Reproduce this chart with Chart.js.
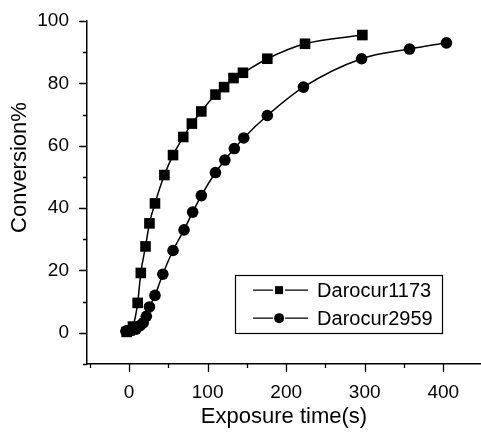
<!DOCTYPE html>
<html>
<head>
<meta charset="utf-8">
<script src="https://cdn.jsdelivr.net/npm/chart.js@4/dist/chart.umd.min.js"></script>
<style>
html,body{margin:0;padding:0;background:#fff;}
#wrap{position:relative;width:481px;height:433px;}
</style>
</head>
<body>
<div id="wrap"><canvas id="c" width="481" height="433"></canvas></div>
<script>
// Darocur1173 (squares)
const timeA = [-3, 1, 5, 11, 15, 21, 26, 33, 45, 56, 69, 80, 92, 110, 121, 133, 145, 176, 224, 297];
const convA = [0.3, 0.8, 2, 9.6, 19.2, 27.7, 35.1, 41.5, 50.6, 57, 62.8, 67.1, 71, 76.4, 78.8, 81.7, 83.4, 87.9, 92.7, 95.5];
// Darocur2959 (circles)
const timeB = [-4, 2, 9, 14, 18, 22, 26, 33, 43, 56, 70, 81, 92, 110, 122, 134, 146, 176, 222, 296, 357, 404];
const convB = [0.5, 0.7, 1.2, 2.3, 3.2, 5.3, 8.3, 12, 18.8, 26.4, 33, 38.7, 44, 51.4, 55.4, 59.1, 62.5, 69.7, 78.8, 87.9, 91, 93];
const seriesNames = ['Darocur1173', 'Darocur2959'];
const xTickLabels = [0, 100, 200, 300, 400];
const yTickLabels = [0, 20, 40, 60, 80, 100];
const xTitle = 'Exposure time(s)';
const yTitle = 'Conversion%';

const toPts = (xs, ys) => xs.map((x, i) => ({x: x, y: ys[i]}));
const FONT = 'Liberation Sans, Arial, sans-serif';

const tickPlugin = {
  id: 'ticksAndLegend',
  afterDraw(chart) {
    const ctx = chart.ctx;
    const xs = chart.scales.x, ys = chart.scales.y;
    const ca = chart.chartArea;
    ctx.save();
    ctx.strokeStyle = '#000';
    ctx.lineWidth = 1.3;
    ctx.beginPath();
    for (let v = -50; v <= 450; v += 50) {
      if (v < xs.min || v > xs.max) continue;
      const p = Math.round(xs.getPixelForValue(v)) + 0.5;
      const len = (v % 100 === 0) ? 8 : 4;
      ctx.moveTo(p, ca.bottom);
      ctx.lineTo(p, ca.bottom + len);
    }
    for (let v = -10; v <= 100; v += 10) {
      const p = Math.round(ys.getPixelForValue(v)) + 0.5;
      const len = (v % 20 === 0) ? 8 : 4;
      ctx.moveTo(ca.left, p);
      ctx.lineTo(ca.left - len, p);
    }
    ctx.stroke();

    // y axis title
    ctx.save();
    ctx.translate(20, ys.getPixelForValue(53));
    ctx.rotate(-Math.PI / 2);
    ctx.font = '22px ' + FONT;
    ctx.fillStyle = '#000';
    ctx.textAlign = 'center';
    ctx.textBaseline = 'middle';
    ctx.fillText(yTitle, 0, 0);
    ctx.restore();

    // legend box
    const bx = xs.getPixelForValue(135), by = ys.getPixelForValue(18.5), bw = 207, bh = 58;
    ctx.lineWidth = 1.2;
    ctx.strokeStyle = '#000';
    ctx.strokeRect(Math.round(bx) + 0.5, Math.round(by) + 0.5, bw, bh);
    const rows = [by + 15, by + 43];
    ctx.font = '20px ' + FONT;
    ctx.fillStyle = '#000';
    ctx.textBaseline = 'middle';
    ctx.textAlign = 'left';
    rows.forEach((ry, i) => {
      ctx.beginPath();
      ctx.lineWidth = 1.3;
      ctx.moveTo(bx + 18, ry); ctx.lineTo(bx + 38, ry);
      ctx.moveTo(bx + 50, ry); ctx.lineTo(bx + 73, ry);
      ctx.stroke();
      ctx.beginPath();
      if (i === 0) {
        ctx.rect(bx + 40, ry - 4, 8, 8);
      } else {
        ctx.arc(bx + 44, ry, 5, 0, Math.PI * 2);
      }
      ctx.fill();
      ctx.fillText(seriesNames[i], bx + 82, ry + 1);
    });
    ctx.restore();
  }
};

new Chart(document.getElementById('c'), {
  type: 'scatter',
  data: {
    datasets: [
      {
        label: seriesNames[0],
        data: toPts(timeA, convA),
        showLine: true,
        borderColor: '#000',
        backgroundColor: '#000',
        borderWidth: 1.5,
        pointStyle: 'rect',
        pointRadius: 7.5,
        pointBorderWidth: 0,
        cubicInterpolationMode: 'monotone'
      },
      {
        label: seriesNames[1],
        data: toPts(timeB, convB),
        showLine: true,
        borderColor: '#000',
        backgroundColor: '#000',
        borderWidth: 1.5,
        pointStyle: 'circle',
        pointRadius: 5.8,
        pointBorderWidth: 0,
        cubicInterpolationMode: 'monotone'
      }
    ]
  },
  options: {
    responsive: false,
    animation: false,
    devicePixelRatio: 1,
    layout: {autoPadding: false, padding: {top: 21, right: 0, left: 0, bottom: 0}},
    plugins: {legend: {display: false}, tooltip: {enabled: false}},
    scales: {
      x: {
        type: 'linear',
        min: -53.5,
        max: 448,
        afterBuildTicks: (s) => { s.ticks = xTickLabels.map(v => ({value: v})); },
        afterFit: (s) => { s.height = 69; s.paddingLeft = 0; s.paddingRight = 0; },
        grid: {display: false},
        border: {display: true, color: '#000', width: 1.5},
        ticks: {color: '#000', font: {family: FONT, size: 19}, padding: 9, maxRotation: 0, autoSkip: false},
        title: {display: true, text: xTitle, color: '#000', font: {family: FONT, size: 22}, padding: {top: 0, bottom: 3}}
      },
      y: {
        type: 'linear',
        min: -10,
        max: 100,
        afterBuildTicks: (s) => { s.ticks = yTickLabels.map(v => ({value: v})); },
        afterFit: (s) => { s.width = 87; s.paddingTop = 0; s.paddingBottom = 0; s.paddingLeft = 0; s.paddingRight = 0; },
        grid: {display: false},
        border: {display: true, color: '#000', width: 1.5},
        ticks: {color: '#000', font: {family: FONT, size: 19}, padding: 10, autoSkip: false},
        title: {display: false}
      }
    }
  },
  plugins: [tickPlugin]
});
</script>
</body>
</html>
